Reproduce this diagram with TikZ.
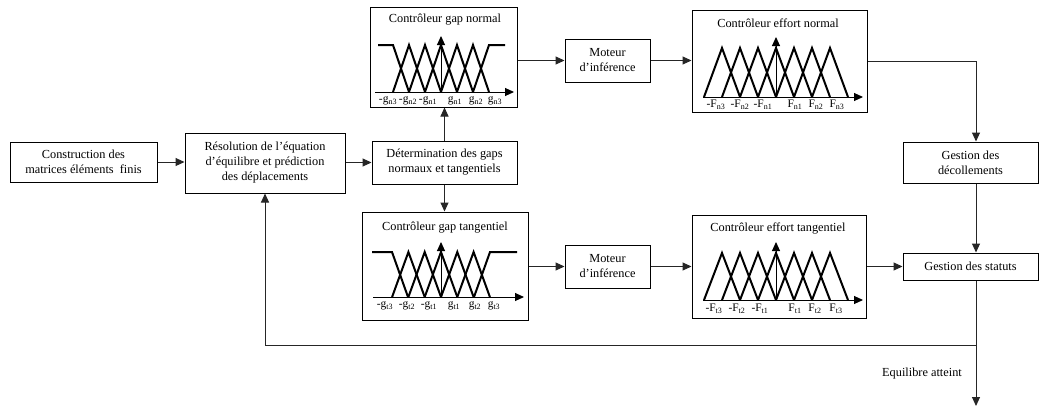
\documentclass[tikz,border=0pt]{standalone}
\usepackage{fontspec}
\setmainfont{Liberation Serif}
\usetikzlibrary{arrows.meta}
\begin{document}
\begin{tikzpicture}[x=1pt,y=-1pt,
  font=\fontsize{12.3}{15}\selectfont,
  box/.style={draw=black, line width=1pt, inner sep=0pt, align=center},
  arr/.style={draw=black!85, line width=1pt, -{Triangle[length=9pt,width=8pt]}},
  conn/.style={draw=black!85, line width=1pt},
  mf/.style={line width=2pt, line join=miter},
  ax/.style={line width=1pt, -{Triangle[length=9pt,width=8pt]}},
  lab/.style={font=\fontsize{11.5}{12}\selectfont, inner sep=0pt}]
\fill[white] (0,0) rectangle (1041,407);
\useasboundingbox (0,0) rectangle (1041,407);

% boxes
\node[box, minimum width=147pt, minimum height=40pt] (con) at (83.5,162) {Construction des\\matrices éléments\ \ finis};
\node[box, minimum width=160pt, minimum height=60pt] (res) at (265,163) {Résolution de l’équation\\d’équilibre et prédiction\\des déplacements};
\node[box, minimum width=145pt, minimum height=43pt] (det) at (444.5,162.5) {Détermination des gaps\\normaux et tangentiels};
\node[box, minimum width=147pt, minimum height=100pt] (gn) at (443.5,57) {};
\node[box, minimum width=166pt, minimum height=108pt] (gt) at (445,266) {};
\node[box, minimum width=85pt, minimum height=43pt] (m1) at (607.5,60.5) {Moteur\\d’inférence};
\node[box, minimum width=85pt, minimum height=43pt] (m2) at (607.5,266.5) {Moteur\\d’inférence};
\node[box, minimum width=175pt, minimum height=102pt] (en) at (779.5,61) {};
\node[box, minimum width=174pt, minimum height=103pt] (et) at (779,266.5) {};
\node[box, minimum width=135pt, minimum height=41pt] (dec) at (970.5,162.5) {Gestion des\\décollements};
\node[box, minimum width=135pt, minimum height=27pt] (stat) at (970.5,266.5) {Gestion des statuts};

% titles
\node (tgn) at (445,20) {Contrôleur gap normal};
\node (tgt) at (445,228) {Contrôleur gap tangentiel};
\node (ten) at (778,23) {Contrôleur effort normal};
\node (tet) at (778,228) {Contrôleur effort tangentiel};

% gap normal membership functions
\draw[mf] (378,45) -- (393,45) -- (409,92);
\foreach \k in {-2,...,2}
  \draw[mf] ({441+(\k-1)*16},92) -- ({441+\k*16},45) -- ({441+(\k+1)*16},92);
\draw[mf] (473,92) -- (489,45) -- (505,45);
\draw[ax] (375,92) -- (514,92);
\draw[ax] (441,92) -- (441,36);
\node[lab] (gl1) at (388,101) {-g\textsubscript{n3}};
\node[lab] (gl2) at (408,101) {-g\textsubscript{n2}};
\node[lab] (gl3) at (428,101) {-g\textsubscript{n1}};
\node[lab] (gl4) at (455,101) {g\textsubscript{n1}};
\node[lab] (gl5) at (476,101) {g\textsubscript{n2}};
\node[lab] (gl6) at (495,101) {g\textsubscript{n3}};

% gap tangentiel membership functions
\draw[mf] (372,252) -- (392,252) -- (408,297);
\foreach \k in {-2,...,2}
  \draw[mf] ({441+(\k-1)*16.3},297) -- ({441+\k*16.3},252) -- ({441+(\k+1)*16.3},297);
\draw[mf] (474,297) -- (490,252) -- (517,252);
\draw[ax] (373,297) -- (524,297);
\draw[ax] (441,297) -- (441,242);
\node[lab] (tl1) at (385,306) {-g\textsubscript{t3}};
\node[lab] (tl2) at (407,306) {-g\textsubscript{t2}};
\node[lab] (tl3) at (429,306) {-g\textsubscript{t1}};
\node[lab] (tl4) at (454,306) {g\textsubscript{t1}};
\node[lab] (tl5) at (475,306) {g\textsubscript{t2}};
\node[lab] (tl6) at (494,306) {g\textsubscript{t3}};

% effort normal membership functions
\foreach \k in {-3,...,3}
  \draw[mf] ({776+(\k-1)*18},97) -- ({776+\k*18},48) -- ({776+(\k+1)*18},97);
\draw[ax] (703,97) -- (863,97);
\draw[ax] (776,97) -- (776,37);
\node[lab] (fl1) at (716,105) {-F\textsubscript{n3}};
\node[lab] (fl2) at (740,105) {-F\textsubscript{n2}};
\node[lab] (fl3) at (763,105) {-F\textsubscript{n1}};
\node[lab] (fl4) at (795,105) {F\textsubscript{n1}};
\node[lab] (fl5) at (816,105) {F\textsubscript{n2}};
\node[lab] (fl6) at (837,105) {F\textsubscript{n3}};

% effort tangentiel membership functions
\foreach \k in {-3,...,3}
  \draw[mf] ({776+(\k-1)*18},300) -- ({776+\k*18},253) -- ({776+(\k+1)*18},300);
\draw[ax] (703,300) -- (863,300);
\draw[ax] (776,300) -- (776,242);
\node[lab] (el1) at (714,309) {-F\textsubscript{t3}};
\node[lab] (el2) at (737,309) {-F\textsubscript{t2}};
\node[lab] (el3) at (760,309) {-F\textsubscript{t1}};
\node[lab] (el4) at (795,309) {F\textsubscript{t1}};
\node[lab] (el5) at (815,309) {F\textsubscript{t2}};
\node[lab] (el6) at (836,309) {F\textsubscript{t3}};

% connectors
\coordinate (c1) at (976,61);
\coordinate (c2) at (976,345);
\coordinate (endp) at (976,406);
\draw[arr] (con.east) -- (con.east -| res.west);
\draw[arr] (res.east |- det.west) -- (det.west);
\draw[arr] (det.north) -- (det.north |- gn.south);
\draw[arr] (det.south) -- (det.south |- gt.north);
\draw[arr] (m1.west -| gn.east) -- (m1.west);
\draw[arr] (m1.east) -- (m1.east -| en.west);
\draw[arr] (m2.west -| gt.east) -- (m2.west);
\draw[arr] (m2.east) -- (m2.east -| et.west);
\draw[arr] (en.east |- c1) -- (c1) -- (c1 |- dec.north);
\draw[arr] (dec.south -| c1) -- (stat.north -| c1);
\draw[arr] (stat.west -| et.east) -- (stat.west);
\draw[conn] (stat.south -| c1) -- (c2);
\draw[arr] (c2) -- (endp);
\draw[arr] (c2) -| (res.south);
\node (eq) at (922,374) {Equilibre atteint};
\end{tikzpicture}
\end{document}
